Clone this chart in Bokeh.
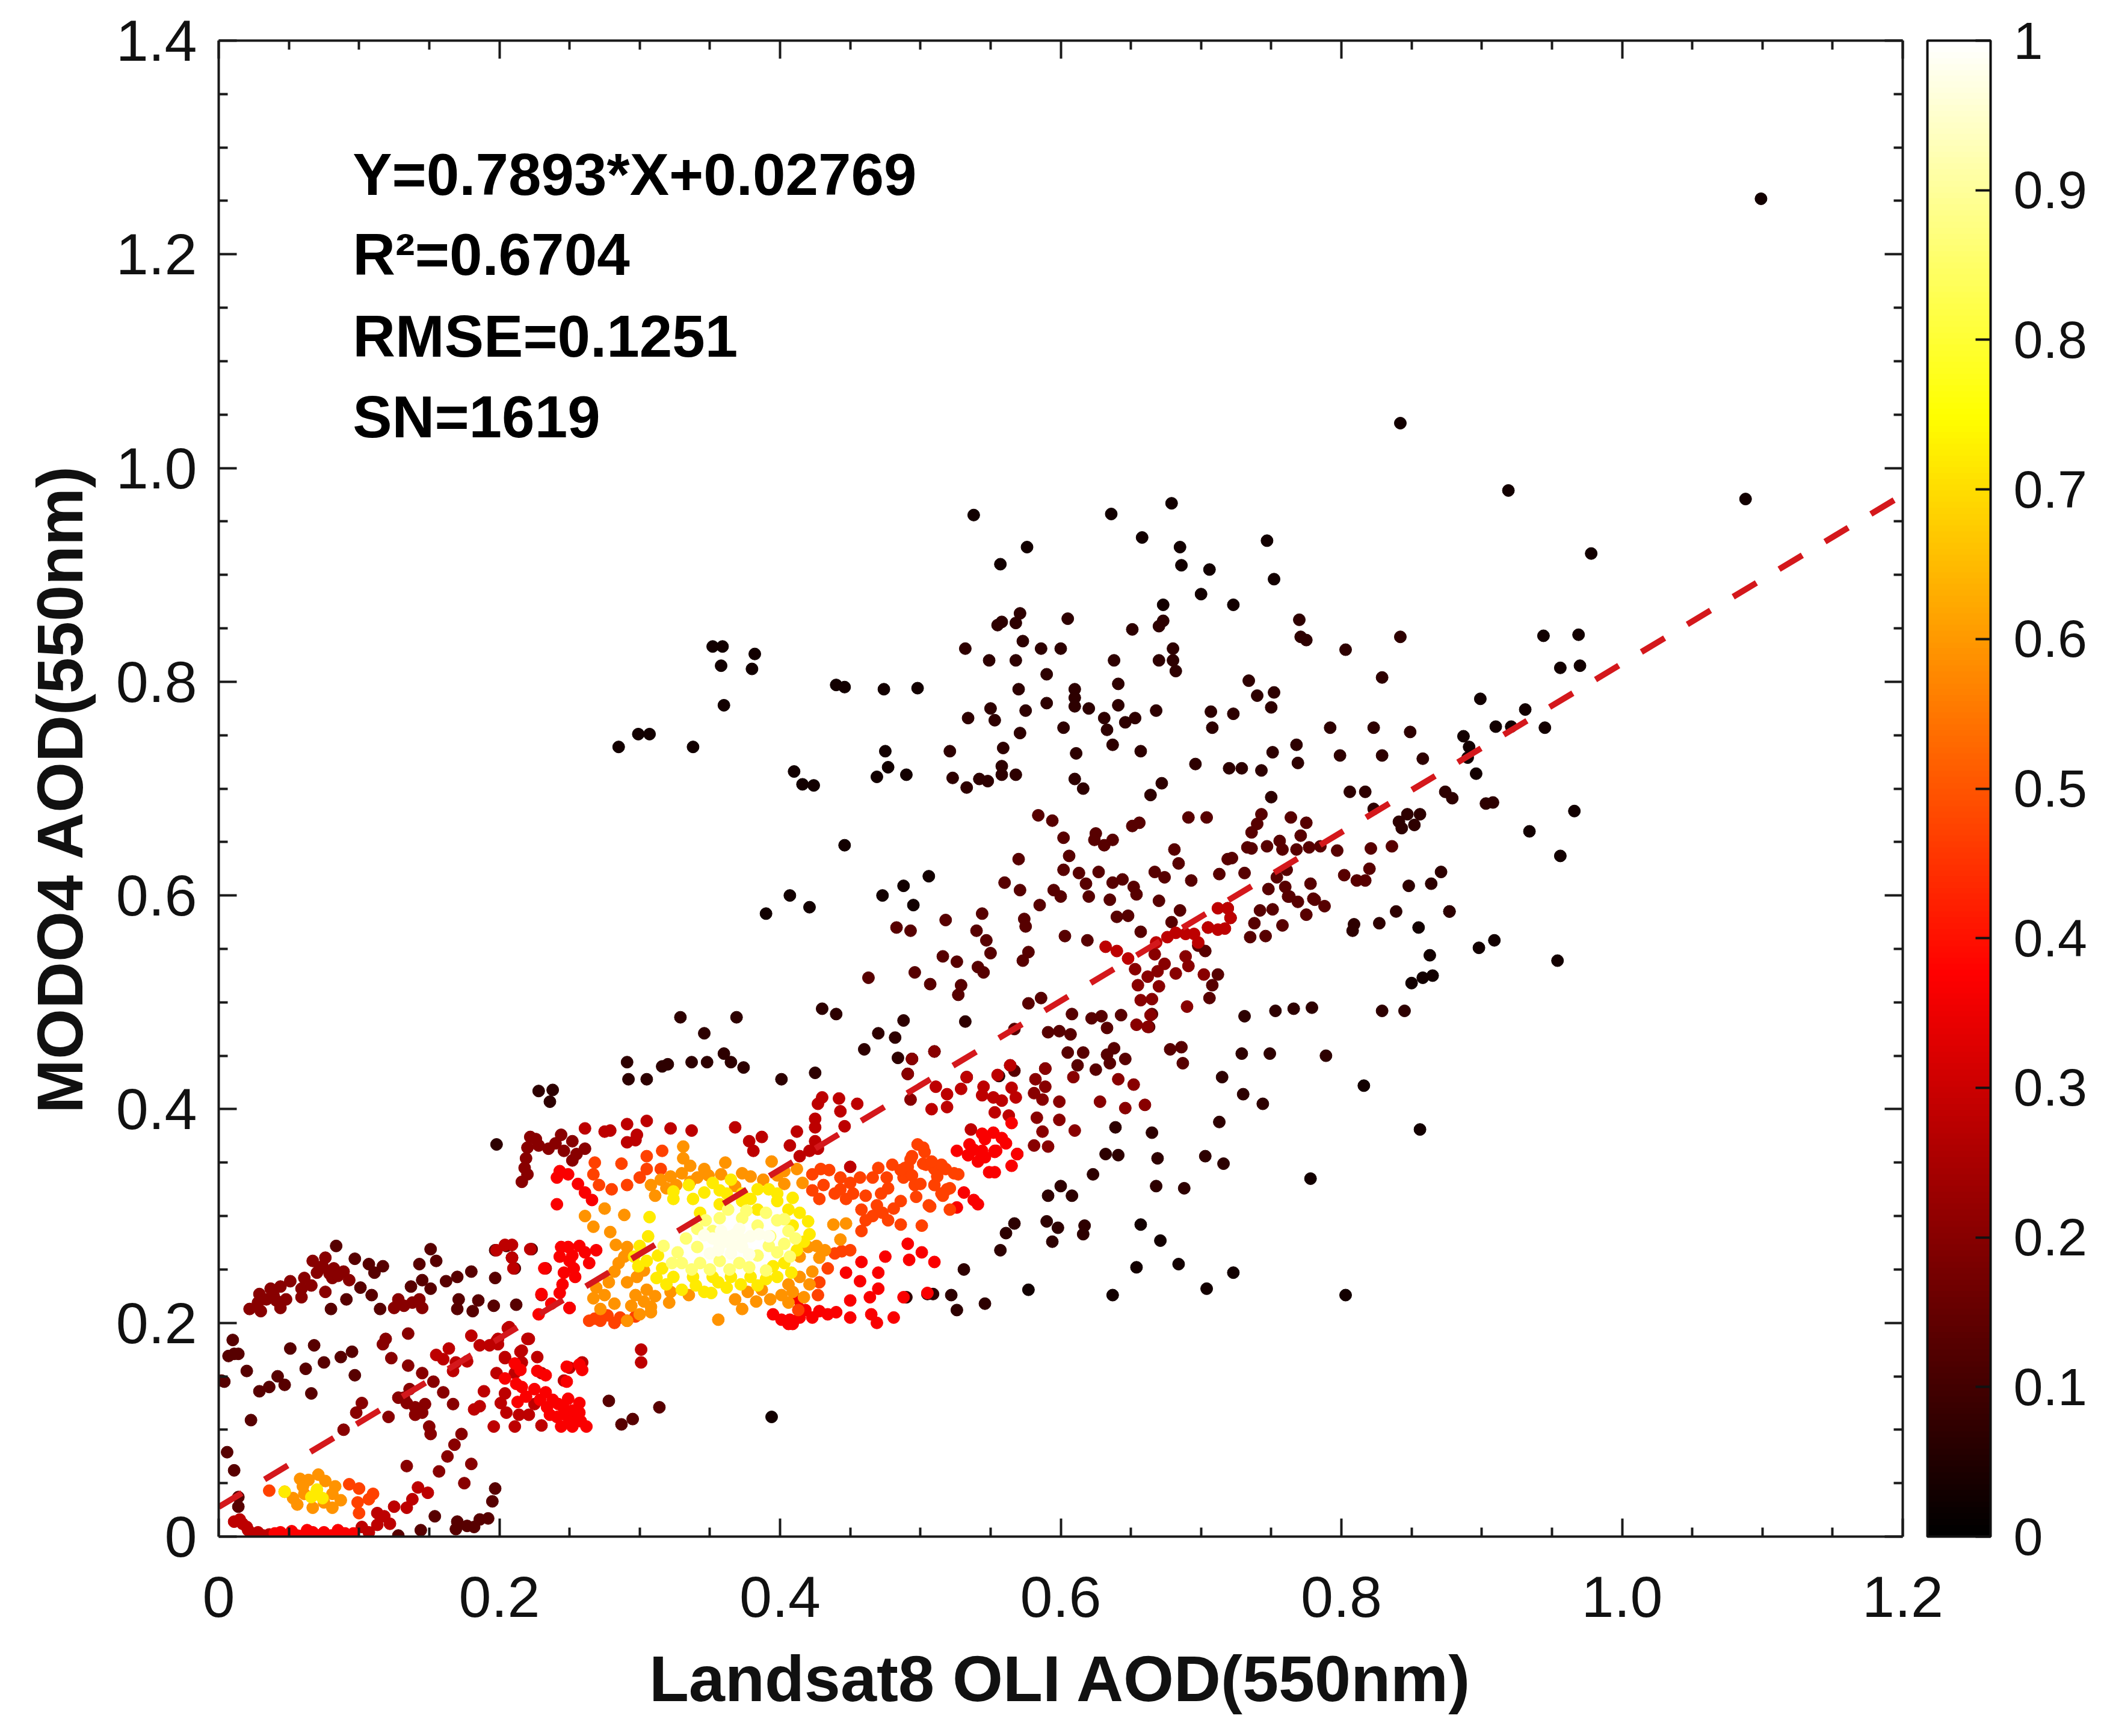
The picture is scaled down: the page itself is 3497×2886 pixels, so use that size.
import numpy as np
from bokeh.embed import file_html
from bokeh.models import (ColorBar, ColumnDataSource, FixedTicker, Label, LinearAxis,
                          LinearColorMapper)
from bokeh.plotting import figure
from bokeh.resources import INLINE

x_ticks = [0, 0.2, 0.4, 0.6, 0.8, 1.0, 1.2]
x_minor = [0.05, 0.1, 0.15, 0.25, 0.3, 0.35, 0.45, 0.5, 0.55, 0.65, 0.7, 0.75, 0.85, 0.9, 0.95, 1.05, 1.1, 1.15]
y_ticks = [0, 0.2, 0.4, 0.6, 0.8, 1.0, 1.2, 1.4]
y_minor = [0.05, 0.1, 0.15, 0.25, 0.3, 0.35, 0.45, 0.5, 0.55, 0.65, 0.7, 0.75, 0.85, 0.9, 0.95, 1.05, 1.1, 1.15, 1.25, 1.3, 1.35]
cbar_ticks = [0, 0.1, 0.2, 0.3, 0.4, 0.5, 0.6, 0.7, 0.8, 0.9, 1]
stats = ["Y=0.7893*X+0.02769", "R²=0.6704", "RMSE=0.1251", "SN=1619"]
fit_slope = 0.7893
fit_intercept = 0.02769
fit_x = [0, 1.2]

# (x, y) of the points, one list per colour level
outer = [(1.099, 1.252), (1.088, .971), (.842, 1.042), (.919, .979), (.978, .920), (.538, .956), (.557, .910), (.576, .926), (.636, .957), (.679, .967),
         (.658, .935), (.685, .926), (.686, .909), (.706, .905), (.747, .932), (.752, .896), (.700, .882), (.723, .872), (.673, .872),
         (.352, .833), (.359, .833), (.382, .826), (.358, .815), (.380, .812), (.360, .778), (.299, .751), (.307, .751), (.285, .739), (.338, .739),
         (.440, .797), (.446, .795), (.474, .793), (.498, .794), (.410, .716), (.416, .704), (.424, .703), (.475, .735), (.477, .720), (.469, .711), (.490, .713),
         (.446, .647), (.506, .618), (.488, .609), (.473, .600), (.495, .591), (.407, .600), (.421, .589), (.390, .583), (.394, .112),
         (.856, .381), (.778, .335), (.816, .422), (.855, .570), (.877, .585), (.898, .551), (.909, .558), (.863, .544), (.850, .518), (.858, .523), (.865, .525), (.954, .539),
         (.966, .679), (.934, .660), (.956, .637), (.944, .843), (.969, .844), (.956, .813), (.970, .815), (.899, .784), (.931, .774), (.910, .758), (.921, .758), (.945, .757),
         (.887, .749), (.891, .739), (.890, .729), (.896, .714), (.803, .226), (.704, .232), (.723, .247), (.684, .255), (.654, .252), (.637, .226), (.671, .277), (.657, .292), (.577, .231)]

sparse = [(.558, .856), (.555, .853), (.571, .864), (.568, .855), (.605, .859), (.673, .857), (.670, .852), (.651, .849), (.532, .831), (.549, .820), (.568, .820),
          (.573, .838), (.586, .831), (.600, .831), (.638, .820), (.680, .831), (.670, .820), (.680, .820), (.682, .810), (.590, .807), (.570, .793), (.641, .798),
          (.610, .793), (.610, .785), (.610, .777), (.590, .780), (.575, .773), (.550, .775), (.553, .764), (.534, .766), (.620, .775), (.641, .778), (.631, .766),
          (.653, .766), (.646, .762), (.668, .773), (.602, .757), (.571, .752), (.633, .755), (.637, .741), (.657, .735), (.611, .733), (.559, .738), (.521, .735),
          (.523, .710), (.533, .701), (.542, .709), (.548, .707), (.558, .721), (.558, .713), (.568, .713), (.610, .709), (.616, .700), (.672, .705), (.664, .694), (.696, .723),
          (.770, .858), (.771, .842), (.775, .839), (.803, .830), (.842, .842), (.829, .804), (.734, .801), (.740, .787), (.752, .790), (.750, .776), (.707, .772),
          (.723, .770), (.708, .757), (.792, .757), (.823, .757), (.849, .753), (.768, .741), (.751, .734), (.769, .724), (.799, .731), (.829, .731), (.858, .728),
          (.743, .717), (.729, .719), (.720, .719), (.806, .697), (.817, .697), (.874, .697), (.879, .691), (.903, .686), (.908, .687), (.750, .692), (.847, .676),
          (.856, .676), (.841, .669), (.852, .666), (.843, .663), (.823, .681), (.871, .622), (.848, .609), (.864, .611), (.827, .574), (.809, .573), (.808, .567),
          (.839, .585), (.877, .585), (.731, .487), (.753, .492), (.766, .494), (.779, .495), (.829, .492), (.845, .492), (.729, .452), (.749, .452), (.789, .450),
          (.715, .430), (.730, .414), (.744, .405), (.713, .388), (.665, .378), (.703, .356), (.716, .349), (.688, .326), (.668, .328), (.669, .354), (.641, .357),
          (.632, .358), (.639, .383), (.623, .339), (.600, .328), (.591, .319), (.608, .319), (.567, .293), (.561, .284), (.557, .268), (.590, .295), (.598, .289),
          (.617, .291), (.616, .283), (.594, .276), (.531, .250), (.546, .218), (.522, .226), (.526, .212), (.505, .227), (.509, .227), (.490, .224),
          (.329, .486), (.369, .486), (.346, .471), (.430, .494), (.440, .489), (.488, .483), (.532, .482), (.470, .471), (.482, .467), (.460, .456), (.484, .448),
          (.494, .447), (.510, .454), (.291, .444), (.316, .440), (.320, .442), (.337, .444), (.348, .444), (.360, .452), (.365, .444), (.374, .439), (.425, .434),
          (.401, .428), (.292, .428), (.305, .428), (.491, .433), (.533, .430), (.228, .417), (.238, .418), (.236, .407), (.198, .367), (.556, .431)]

low = [(.584, .675), (.594, .670), (.602, .654), (.625, .658), (.624, .652), (.631, .647), (.637, .652), (.651, .665), (.656, .668), (.691, .673), (.606, .637),
       (.570, .634), (.681, .643), (.684, .630), (.560, .612), (.571, .605), (.602, .624), (.613, .621), (.627, .622), (.618, .611), (.620, .599), (.595, .605),
       (.600, .599), (.637, .612), (.644, .615), (.652, .608), (.654, .601), (.635, .596), (.667, .622), (.674, .617), (.693, .614), (.670, .595), (.585, .591),
       (.544, .583), (.518, .577), (.574, .578), (.575, .571), (.483, .570), (.493, .567), (.540, .567), (.547, .558), (.550, .546), (.516, .543), (.526, .538),
       (.577, .547), (.573, .539), (.541, .533), (.545, .528), (.496, .528), (.463, .523), (.507, .517), (.529, .516), (.527, .507), (.603, .562), (.619, .558),
       (.640, .580), (.648, .581), (.685, .586), (.679, .575), (.657, .566), (.586, .504), (.577, .499), (.608, .489), (.622, .485), (.629, .487), (.643, .488),
       (.665, .489), (.663, .477), (.633, .476), (.591, .472), (.599, .473), (.607, .470), (.567, .475), (.678, .456), (.686, .458), (.687, .443), (.605, .453),
       (.616, .453), (.638, .457), (.633, .451), (.646, .447), (.635, .443), (.612, .441), (.625, .437), (.564, .441), (.567, .436), (.589, .438),
       (.722, .635), (.736, .644), (.761, .624), (.713, .620), (.731, .621), (.760, .608), (.754, .617), (.748, .606), (.780, .597), (.763, .599), (.769, .594),
       (.781, .596), (.736, .659), (.740, .667), (.743, .676), (.764, .673), (.775, .668), (.771, .656), (.733, .645), (.747, .646), (.756, .651), (.758, .643),
       (.768, .643), (.777, .645), (.785, .646), (.797, .642), (.821, .644), (.836, .646), (.820, .625), (.802, .619), (.811, .614), (.817, .614), (.704, .673),
       (.719, .634), (.778, .611), (.742, .586), (.751, .587), (.738, .574), (.758, .572), (.746, .562), (.735, .561), (.762, .599), (.775, .582), (.788, .590),
       (.705, .570), (.721, .579), (.719, .588), (.698, .553), (.703, .548), (.708, .516), (.706, .504), (.712, .526),
       (.0837, .272), (.097, .260), (.107, .255), (.117, .253), (.111, .247), (.101, .233), (.091, .222), (.109, .226), (.080, .213), (.115, .213), (.151, .269),
       (.143, .255), (.155, .258), (.145, .240), (.151, .232), (.137, .234), (.162, .239), (.170, .243), (.180, .248), (.171, .222), (.170, .213), (.185, .221),
       (.181, .211), (.196, .216), (.212, .217), (.197, .268), (.205, .272), (.209, .261), (.211, .251), (.223, .269), (.197, .242),
       (.010, .184), (.011, .171), (.007, .169), (.014, .171), (.051, .176), (.068, .179), (.020, .155), (.004, .145), (.002, .146), (.062, .157), (.075, .163),
       (.087, .168), (.095, .173), (.097, .151), (.029, .136), (.036, .140), (.042, .150), (.047, .142), (.066, .134), (.023, .109), (.006, .079), (.011, .062),
       (.197, .045), (.195, .033), (.192, .017), (.186, .016), (.182, .009), (.177, .010), (.170, .014), (.169, .007), (.154, .019), (.144, .006), (.128, .001),
       (.278, .127), (.287, .105), (.295, .110), (.314, .121), (.014, .037), (.014, .028)]

dark = [(.067, .258), (.076, .261), (.074, .253), (.082, .251), (.089, .248), (.081, .242), (.093, .240), (.070, .247), (.051, .239), (.044, .234), (.037, .232),
        (.029, .227), (.039, .226), (.028, .219), (.022, .213), (.030, .211), (.044, .214), (.048, .222), (.061, .242), (.059, .232), (.066, .235), (.076, .229),
        (.059, .224), (.125, .214), (.132, .216), (.138, .219), (.145, .214), (.128, .222), (.143, .222), (.072, .251), (.079, .246), (.085, .244), (.034, .222), (.041, .221),
        (.119, .185), (.117, .180), (.135, .190), (.123, .167), (.135, .160), (.145, .153), (.153, .145), (.160, .135), (.167, .124), (.102, .125), (.098, .116),
        (.121, .112), (.089, .100), (.150, .103), (.151, .096), (.173, .096), (.168, .086), (.163, .075), (.157, .061), (.180, .068), (.175, .050), (.134, .066),
        (.132, .130), (.134, .125), (.140, .121), (.147, .124), (.140, .114), (.145, .116), (.136, .138), (.128, .130),
        (.222, .374), (.220, .364), (.219, .354), (.228, .366), (.235, .363), (.244, .376), (.252, .370), (.246, .361), (.261, .363), (.252, .352), (.220, .339),
        (.216, .332), (.226, .372), (.240, .368), (.218, .345), (.255, .358),
        (.599, .407), (.587, .409), (.599, .390), (.583, .392), (.587, .379), (.610, .380), (.581, .366), (.591, .365), (.569, .358), (.628, .407), (.641, .428),
        (.652, .423), (.646, .401), (.660, .404), (.609, .430), (.582, .428), (.589, .421), (.589, .438), (.581, .415), (.654, .479), (.655, .516), (.665, .503),
        (.670, .515), (.662, .524), (.653, .531), (.667, .545), (.674, .536), (.669, .529), (.682, .527), (.691, .534), (.689, .543), (.702, .526), (.657, .502),
        (.690, .496), (.664, .488), (.662, .477), (.493, .409), (.491, .433), (.494, .447), (.510, .454)]

warm = [(.632, .552), (.640, .548), (.648, .541), (.668, .556), (.676, .561), (.682, .565), (.689, .564), (.695, .564), (.698, .556), (.712, .588), (.712, .568),
        (.705, .570), (.717, .569), (.721, .579), (.719, .588), (.545, .421), (.544, .413), (.552, .411), (.558, .408), (.565, .420), (.568, .411), (.511, .421),
        (.519, .414), (.529, .419), (.533, .430), (.555, .432), (.564, .441), (.508, .400), (.519, .402), (.553, .397), (.563, .394), (.536, .381),
        (.430, .411), (.427, .405), (.442, .410), (.455, .405), (.443, .398), (.425, .391), (.425, .383), (.412, .379), (.407, .366), (.425, .370), (.421, .361),
        (.414, .356), (.427, .363), (.446, .384), (.450, .346),
        (.261, .382), (.275, .379), (.279, .380), (.291, .386), (.305, .389), (.298, .376), (.291, .369), (.297, .371), (.322, .382), (.337, .380), (.368, .383),
        (.387, .374), (.378, .370), (.381, .361), (.233, .251), (.230, .226), (.250, .214), (.222, .269), (.198, .268), (.204, .273), (.209, .273), (.209, .261),
        (.210, .251), (.206, .195), (.220, .185), (.198, .183), (.193, .179), (.301, .175), (.301, .163), (.204, .168), (.227, .168), (.215, .173), (.216, .163),
        (.198, .153), (.211, .153), (.230, .153), (.250, .158), (.259, .163), (.246, .146), (.204, .167), (.216, .174), (.155, .170), (.164, .176), (.160, .166),
        (.169, .163), (.177, .164), (.167, .155), (.180, .188), (.186, .179), (.199, .180), (.207, .196), (.199, .185), (.221, .185), (.189, .136), (.204, .134),
        (.201, .125), (.205, .116), (.214, .114), (.221, .114), (.225, .124), (.211, .103), (.196, .103), (.230, .104), (.182, .119), (.186, .122),
        (.142, .046), (.149, .041), (.138, .035), (.134, .027), (.125, .028), (.118, .019), (.113, .022), (.122, .012), (.113, .011), (.102, .009), (.107, .004),
        (.015, .016), (.011, .014), (.020, .009), (.024, .003), (.032, .001), (.028, .004), (.017, .012), (.021, .006), (.036, .002)]

red = [(.243, .342), (.241, .336), (.249, .339), (.256, .330), (.261, .322), (.266, .315), (.241, .311), (.553, .360), (.546, .372), (.544, .377), (.552, .378),
       (.558, .373), (.565, .387), (.535, .367), (.544, .361), (.546, .355), (.554, .361), (.553, .341), (.531, .322), (.526, .308), (.538, .315), (.541, .311),
       (.534, .357), (.526, .361), (.538, .362), (.541, .351), (.534, .357), (.544, .355), (.553, .361), (.549, .341), (.569, .358), (.561, .368), (.565, .347),
       (.233, .135), (.234, .121), (.242, .124), (.249, .129), (.257, .125), (.236, .114), (.247, .114), (.257, .116), (.252, .103), (.262, .103), (.244, .103),
       (.255, .109), (.227, .155), (.233, .151), (.216, .140), (.225, .138), (.248, .159), (.257, .161), (.259, .156), (.248, .145), (.238, .128), (.246, .120),
       (.252, .118), (.229, .128), (.241, .112), (.250, .108), (.258, .108), (.219, .131), (.213, .126), (.204, .148), (.211, .162), (.215, .156), (.212, .143),
       (.407, .203), (.414, .213), (.401, .203), (.409, .199), (.414, .205), (.406, .199), (.423, .205), (.434, .208), (.440, .210), (.450, .205), (.465, .208),
       (.469, .200), (.481, .205), (.450, .221), (.447, .247), (.457, .239), (.470, .247), (.475, .262), (.458, .257), (.492, .259), (.501, .266), (.510, .257),
       (.491, .274), (.464, .224), (.470, .232), (.488, .224), (.505, .228), (.395, .208), (.418, .212), (.428, .211), (.413, .222),
       (.244, .271), (.249, .271), (.243, .262), (.250, .258), (.232, .251), (.253, .251), (.261, .266), (.269, .268), (.264, .256), (.254, .243), (.245, .236),
       (.243, .228), (.237, .218), (.230, .227), (.228, .208), (.250, .214), (.252, .263), (.257, .272), (.246, .247),
       (.096, .003), (.040, .003), (.048, .001), (.056, .001), (.063, .006), (.071, .001), (.080, .001), (.085, .006), (.044, .004), (.052, .005), (.060, .001), (.067, .004), (.075, .004), (.090, .003)]

orange = [(.268, .350), (.267, .339), (.271, .329), (.280, .325), (.287, .349), (.291, .329), (.300, .336), (.305, .356), (.305, .344), (.316, .361), (.315, .344),
          (.423, .339), (.429, .344), (.423, .324), (.431, .329), (.428, .316), (.439, .321), (.443, .336), (.450, .331), (.447, .316), (.457, .336), (.466, .336),
          (.472, .321), (.461, .319), (.458, .306), (.466, .300), (.477, .296), (.486, .292), (.461, .296), (.458, .286), (.494, .356), (.502, .364), (.491, .346),
          (.502, .349), (.510, .344), (.518, .344), (.527, .339), (.496, .329), (.510, .329), (.521, .326), (.516, .319), (.486, .314), (.477, .326), (.488, .336),
          (.506, .310), (.521, .306), (.501, .291), (.498, .367), (.503, .360), (.493, .353), (.504, .348), (.515, .348), (.524, .340), (.519, .325), (.515, .321),
          (.500, .330), (.497, .318), (.507, .309), (.489, .345), (.435, .343), (.443, .325), (.452, .321), (.470, .345), (.480, .348), (.476, .336), (.469, .310), (.473, .303),
          (.481, .307), (.494, .338), (.486, .343), (.512, .337), (.508, .351), (.264, .202), (.272, .202), (.282, .200), (.291, .202), (.268, .204), (.277, .207), (.286, .205), (.297, .206),
          (.036, .043), (.110, .040), (.099, .032), (.100, .022), (.107, .035), (.093, .049), (.100, .045), (.413, .212), (.427, .226), (.434, .251), (.428, .238), (.444, .267), (.439, .265), (.450, .268)]

amber = [(.331, .365), (.331, .354), (.336, .347), (.346, .344), (.361, .350), (.373, .340), (.394, .351), (.403, .342), (.403, .330), (.330, .340), (.326, .329),
         (.341, .336), (.319, .326), (.308, .329), (.311, .319), (.275, .307), (.289, .301), (.261, .300), (.267, .290), (.279, .285), (.283, .273), (.291, .271),
         (.356, .203), (.368, .222), (.373, .213), (.383, .220), (.387, .231), (.401, .226), (.406, .219), (.420, .271), (.428, .261), (.423, .248), (.414, .243),
         (.406, .236), (.282, .248), (.278, .238), (.291, .238), (.297, .226), (.305, .231), (.308, .215), (.269, .233), (.267, .223), (.282, .218), (.272, .213),
         (.291, .202), (.300, .208), (.308, .210), (.438, .292), (.447, .293), (.443, .278), (.321, .219), (.047, .042), (.058, .054), (.071, .058), (.056, .030),
         (.067, .027), (.081, .027), (.081, .040), (.061, .040), (.053, .036), (.075, .032), (.087, .034), (.064, .053), (.076, .052), (.083, .047), (.060, .047),
         (.315, .334), (.322, .337), (.336, .332), (.349, .338), (.358, .339), (.368, .328), (.379, .337), (.388, .334), (.398, .338), (.412, .344), (.416, .331),
         (.417, .224), (.393, .222), (.377, .229), (.298, .243), (.285, .256), (.294, .216), (.303, .220), (.275, .226), (.311, .225), (.322, .229), (.335, .226),
         (.289, .262), (.303, .249), (.409, .229), (.426, .272), (.432, .268), (.414, .262), (.421, .236)]

yellow = [(.335, .329), (.352, .331), (.365, .334), (.357, .324), (.373, .321), (.324, .316), (.338, .316), (.384, .325), (.398, .321), (.307, .299), (.343, .303),
          (.357, .311), (.373, .314), (.384, .306), (.398, .314), (.406, .306), (.414, .303), (.420, .295), (.409, .291), (.305, .258), (.313, .263), (.316, .251),
          (.403, .256), (.395, .253), (.324, .243), (.338, .243), (.352, .243), (.365, .243), (.379, .243), (.390, .241), (.330, .231), (.346, .229), (.362, .233),
          (.047, .042), (.069, .040), (.070, .044), (.074, .036), (.066, .037), (.324, .323), (.346, .322), (.362, .321), (.379, .316), (.392, .325), (.409, .317),
          (.421, .283), (.417, .276), (.412, .268), (.408, .247), (.300, .272), (.306, .281), (.296, .262), (.299, .253), (.312, .242), (.319, .236), (.340, .235),
          (.356, .238), (.372, .236), (.384, .235), (.398, .243), (.351, .228)]

bright = [(.398, .296), (.384, .291), (.373, .298), (.357, .298), (.341, .288), (.352, .286), (.393, .281), (.406, .286), (.341, .271), (.327, .266), (.330, .256),
          (.343, .256), (.357, .258), (.371, .256), (.384, .263), (.398, .266), (.333, .279), (.347, .296), (.363, .306), (.376, .305), (.390, .303), (.403, .297),
          (.411, .279), (.403, .274), (.392, .272), (.323, .256), (.317, .272), (.337, .250), (.350, .250), (.364, .250), (.378, .252), (.390, .249), (.407, .262)]

white = [(.352, .279), (.365, .281), (.379, .281), (.392, .281), (.357, .273), (.373, .271), (.346, .282), (.358, .286), (.371, .288), (.385, .283), (.365, .265),
         (.378, .264), (.350, .265), (.362, .276), (.373, .278), (.368, .283), (.360, .281), (.366, .272), (.356, .268)]

level_points = [outer, sparse, low, dark, warm, red, orange, amber, yellow, bright, white]
level_values = [0.03, 0.07, 0.13, 0.2, 0.28, 0.37, 0.47, 0.59, 0.72, 0.86, 0.98]

xs, ys, ds = [], [], []
for pts, val in zip(level_points, level_values):
    for a, b in pts:
        xs.append(a)
        ys.append(b)
        ds.append(val)
source = ColumnDataSource(data={"x": xs, "y": ys, "d": ds})

# MATLAB hot
pos = np.linspace(0, 1, 256)
r = np.clip(pos / 0.375, 0, 1)
g = np.clip((pos - 0.375) / 0.375, 0, 1)
b = np.clip((pos - 0.75) / 0.25, 0, 1)
hot = ["#%02x%02x%02x" % (int(u * 255), int(v * 255), int(w * 255)) for u, v, w in zip(r, g, b)]
mapper = LinearColorMapper(palette=hot, low=0, high=1)

FONT = "Liberation Sans"


def style_axis(ax, ticks, minor, labels=True):
    ax.ticker = FixedTicker(ticks=ticks, minor_ticks=minor)
    ax.axis_line_color = "#1a1a1a"
    ax.axis_line_width = 4
    ax.major_tick_line_color = "#1a1a1a"
    ax.major_tick_line_width = 4
    ax.minor_tick_line_color = "#1a1a1a"
    ax.minor_tick_line_width = 4
    ax.major_tick_in = 30
    ax.major_tick_out = 0
    ax.minor_tick_in = 15
    ax.minor_tick_out = 0
    if labels:
        ax.major_label_text_font = FONT
        ax.major_label_text_font_size = "97px"
        ax.major_label_text_color = "#111111"
        ax.major_label_overrides = {0: "0", 1: "1.0"}
        ax.axis_label_text_font = FONT
        ax.axis_label_text_font_size = "108px"
        ax.axis_label_text_font_style = "bold"
        ax.axis_label_text_color = "#111111"
    else:
        ax.major_label_text_color = None
        ax.major_label_text_font_size = "1px"
        ax.major_label_standoff = 0


p = figure(width=3481, height=2870, output_backend="svg", toolbar_location=None,
           x_range=(0, 1.2), y_range=(0, 1.4),
           min_border_left=363, min_border_right=319, min_border_top=67, min_border_bottom=316,
           x_axis_label="Landsat8 OLI AOD(550nm)", y_axis_label="MODO4 AOD(550nm)")
p.grid.visible = False
p.outline_line_color = None
p.background_fill_color = "white"

style_axis(p.xaxis[0], x_ticks, x_minor)
style_axis(p.yaxis[0], y_ticks, y_minor)
p.xaxis[0].major_label_standoff = 66
p.yaxis[0].major_label_standoff = 36
p.xaxis[0].axis_label_standoff = 39
p.yaxis[0].axis_label_standoff = 30

top_axis = LinearAxis()
right_axis = LinearAxis()
style_axis(top_axis, x_ticks, x_minor, labels=False)
style_axis(right_axis, y_ticks, y_minor, labels=False)
p.add_layout(top_axis, "above")
p.add_layout(right_axis, "right")

p.scatter("x", "y", source=source, size=20, marker="circle",
          fill_color={"field": "d", "transform": mapper},
          line_color={"field": "d", "transform": mapper}, line_width=1)

fit_y = [fit_slope * v + fit_intercept for v in fit_x]
p.line(fit_x, fit_y, line_color="#d4181c", line_width=10, line_dash=[45, 44])

for text, yv in zip(stats, [1.275, 1.200, 1.1235, 1.0477]):
    p.add_layout(Label(x=0.0955, y=yv, text=text, text_font=FONT, text_font_size="98px",
                       text_font_style="bold", text_color="#000000", text_baseline="alphabetic"))

bar = ColorBar(color_mapper=mapper, location=(2840, 0), width=105, height=2487, margin=0, padding=0,
               ticker=FixedTicker(ticks=cbar_ticks, minor_ticks=[]),
               major_label_overrides={0: "0", 1: "1"},
               major_label_text_font=FONT, major_label_text_font_size="88px", major_label_text_color="#111111",
               major_tick_in=25, major_tick_line_color="#111111", major_tick_line_width=4,
               minor_tick_line_color=None, label_standoff=38,
               bar_line_color="#111111", bar_line_width=4, border_line_color=None, background_fill_color=None)
p.add_layout(bar, "center")

open("out.html", "w").write(file_html(p, INLINE))
